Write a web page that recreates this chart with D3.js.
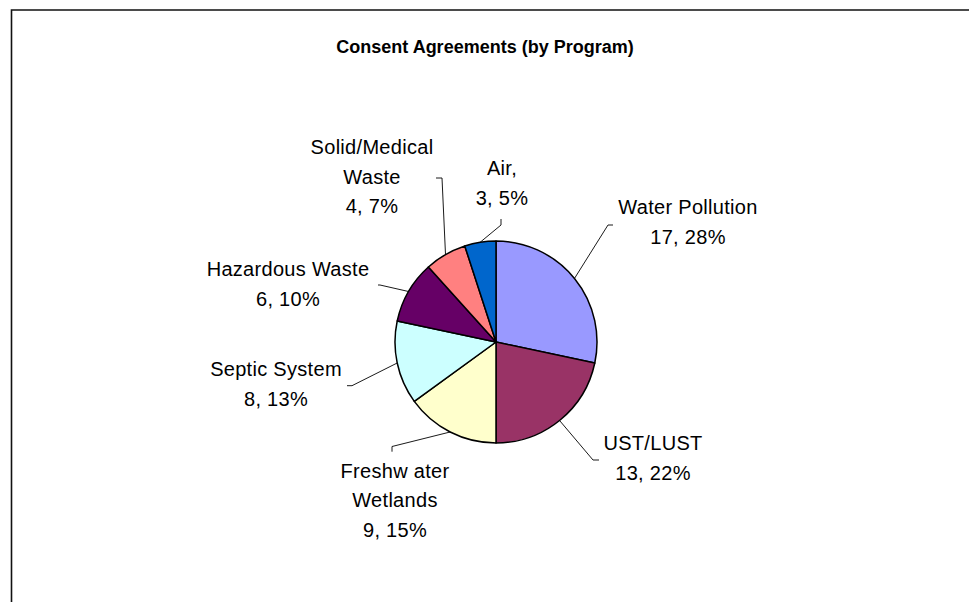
<!DOCTYPE html>
<html>
<head>
<meta charset="utf-8">
<script src="https://cdn.jsdelivr.net/npm/d3@7"></script>
<style>
  html, body { margin: 0; padding: 0; background: #fff; }
  svg { display: block; }
  text { font-family: "Liberation Sans", Arial, sans-serif; fill: #000; }
</style>
</head>
<body>
<div id="chart"></div>
<script>
// Consent agreements per program
var categories = ["Water Pollution", "UST/LUST", "Freshwater Wetlands", "Septic System", "Hazardous Waste", "Solid/Medical Waste", "Air"];
var counts = [17, 13, 9, 8, 6, 4, 3];
var sliceColors = ["#9999ff", "#993366", "#ffffcc", "#ccffff", "#660066", "#ff8080", "#0066cc"];
// how each category name wraps in its label
var nameLines = [["Water Pollution"], ["UST/LUST"], ["Freshw ater", "Wetlands"], ["Septic System"], ["Hazardous Waste"], ["Solid/Medical", "Waste"], ["Air,"]];

var width = 969, height = 602;
var cx = 496, cy = 342, radius = 101;
var lineHeight = 29.7;

// label placement: text centre x, first baseline y, leader elbow and end
var labelSpots = [
  {x: 688, y: 214, elbow: [608, 225], end: [613, 225]},
  {x: 653, y: 450, elbow: [593, 460], end: [599, 460]},
  {x: 395, y: 477.7, elbow: [392, 446.5], end: [392, 451.7]},
  {x: 276, y: 376, elbow: [352, 385.7], end: [347, 385.7]},
  {x: 288, y: 276, elbow: [380, 285], end: [378, 285]},
  {x: 372, y: 154, elbow: [442, 178], end: [436, 178]},
  {x: 502, y: 175, elbow: [501, 225], end: [501, 219]}
];

var total = d3.sum(counts);

var svg = d3.select("#chart").append("svg")
    .attr("width", width)
    .attr("height", height);

// chart frame (runs off the right and bottom)
svg.append("path")
    .attr("d", "M11.5," + height + "V10H" + width)
    .attr("fill", "none")
    .attr("stroke", "#111")
    .attr("stroke-width", 1.6);

svg.append("text")
    .attr("x", 485)
    .attr("y", 53.3)
    .attr("text-anchor", "middle")
    .style("font-size", "18px")
    .style("font-weight", "bold")
    .text("Consent Agreements (by Program)");

var pie = d3.pie()
    .sort(null)
    .value(function(d) { return d; });

var arcs = pie(counts);

var arc = d3.arc()
    .innerRadius(0)
    .outerRadius(radius);

var g = svg.append("g")
    .attr("transform", "translate(" + cx + "," + cy + ")");

g.selectAll("path")
    .data(arcs)
    .enter()
    .append("path")
    .attr("d", arc)
    .attr("fill", function(d, i) { return sliceColors[i]; })
    .attr("stroke", "#000")
    .attr("stroke-width", 1.5)
    .attr("stroke-linejoin", "round");

// leader lines from the slice edge to each label
svg.append("g").selectAll("polyline")
    .data(arcs)
    .enter()
    .append("polyline")
    .attr("points", function(d, i) {
      var a = (d.startAngle + d.endAngle) / 2;
      var sx = cx + radius * Math.sin(a), sy = cy - radius * Math.cos(a);
      var s = labelSpots[i];
      return [[sx, sy], s.elbow, s.end].map(function(p) { return p.join(","); }).join(" ");
    })
    .attr("fill", "none")
    .attr("stroke", "#000")
    .attr("stroke-width", 0.9);

var labels = svg.append("g").selectAll("text")
    .data(arcs)
    .enter()
    .append("text")
    .attr("text-anchor", "middle")
    .style("font-size", "20px")
    .style("letter-spacing", "0.3px");

labels.each(function(d, i) {
  var pct = Math.round(d.value / total * 100);
  var lines = nameLines[i].concat([d.value + ", " + pct + "%"]);
  var s = labelSpots[i];
  d3.select(this).selectAll("tspan")
    .data(lines)
    .enter()
    .append("tspan")
    .attr("x", s.x)
    .attr("y", function(t, k) { return s.y + k * lineHeight; })
    .text(function(t) { return t; });
});
</script>
</body>
</html>
